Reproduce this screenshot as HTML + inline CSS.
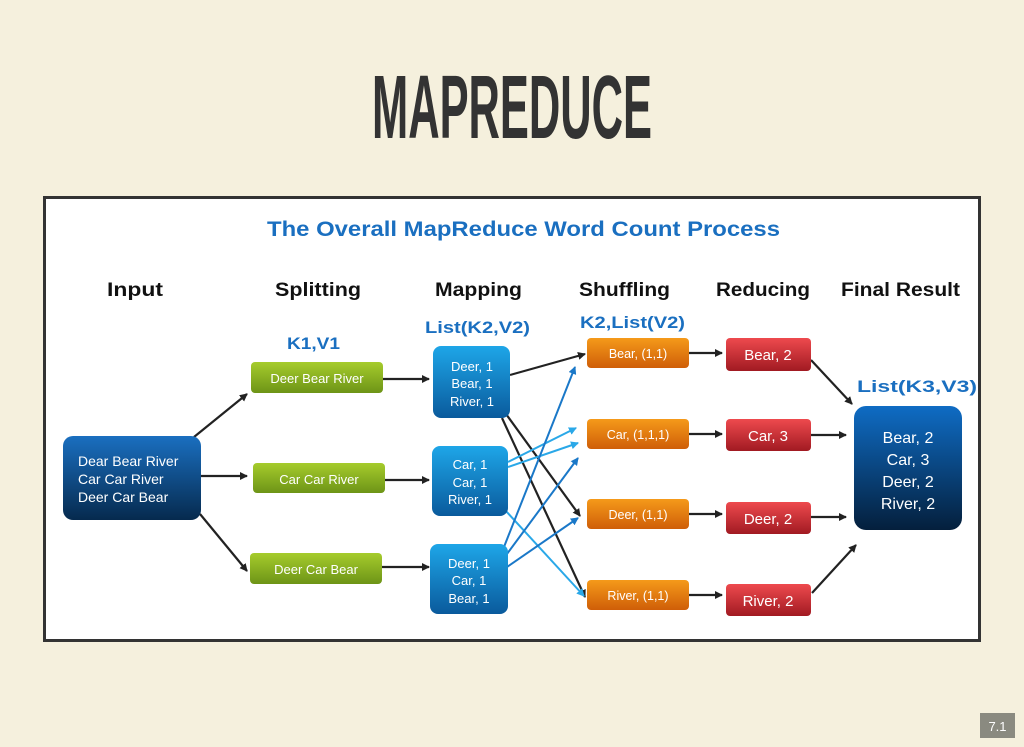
<!DOCTYPE html>
<html><head><meta charset="utf-8"><style>
html,body{margin:0;padding:0;background:#f5f0dd;}
svg{display:block}
text{font-family:"Liberation Sans",sans-serif}
</style></head><body>
<svg width="1024" height="747" viewBox="0 0 1024 747" xmlns="http://www.w3.org/2000/svg">
<defs>
<linearGradient id="gIn" x1="0" y1="0" x2="0" y2="1"><stop offset="0" stop-color="#1a6fc0"/><stop offset="1" stop-color="#062a4e"/></linearGradient>
<linearGradient id="gMap" x1="0" y1="0" x2="0" y2="1"><stop offset="0" stop-color="#1ea6e8"/><stop offset="1" stop-color="#0a5a9c"/></linearGradient>
<linearGradient id="gGr" x1="0" y1="0" x2="0" y2="1"><stop offset="0" stop-color="#a6cc2c"/><stop offset="1" stop-color="#6d9417"/></linearGradient>
<linearGradient id="gOr" x1="0" y1="0" x2="0" y2="1"><stop offset="0" stop-color="#f59a1a"/><stop offset="1" stop-color="#cf5e08"/></linearGradient>
<linearGradient id="gRd" x1="0" y1="0" x2="0" y2="1"><stop offset="0" stop-color="#ee4a4e"/><stop offset="1" stop-color="#a11a22"/></linearGradient>
<linearGradient id="gFin" x1="0" y1="0" x2="0" y2="1"><stop offset="0" stop-color="#0f6cc4"/><stop offset="1" stop-color="#041f3c"/></linearGradient>
<marker id="ak" markerWidth="8" markerHeight="8" refX="7" refY="4" orient="auto" markerUnits="userSpaceOnUse"><path d="M0,0 L8,4 L0,8 z" fill="#222"/></marker>
<marker id="ab" markerWidth="8" markerHeight="8" refX="7" refY="4" orient="auto" markerUnits="userSpaceOnUse"><path d="M0,0 L8,4 L0,8 z" fill="#1a78c8"/></marker>
<marker id="al" markerWidth="8" markerHeight="8" refX="7" refY="4" orient="auto" markerUnits="userSpaceOnUse"><path d="M0,0 L8,4 L0,8 z" fill="#2aa8e8"/></marker>
</defs>

<text x="512" y="138" font-size="90" font-weight="bold" fill="#333" text-anchor="middle" textLength="280" lengthAdjust="spacingAndGlyphs">MAPREDUCE</text>

<rect x="44.5" y="197.5" width="935" height="443" fill="#fff" stroke="#333" stroke-width="3"/>

<text x="267" y="236" font-size="21" font-weight="bold" fill="#1a6fc0" textLength="513" lengthAdjust="spacingAndGlyphs">The Overall MapReduce Word Count Process</text>

<g font-size="19" font-weight="bold" fill="#111">
<text x="107" y="296" textLength="56" lengthAdjust="spacingAndGlyphs">Input</text>
<text x="275" y="296" textLength="86" lengthAdjust="spacingAndGlyphs">Splitting</text>
<text x="435" y="296" textLength="87" lengthAdjust="spacingAndGlyphs">Mapping</text>
<text x="579" y="296" textLength="91" lengthAdjust="spacingAndGlyphs">Shuffling</text>
<text x="716" y="296" textLength="94" lengthAdjust="spacingAndGlyphs">Reducing</text>
<text x="841" y="296" textLength="119" lengthAdjust="spacingAndGlyphs">Final Result</text>
</g>
<g font-size="17" font-weight="bold" fill="#1a6fc0">
<text x="287" y="349" textLength="53" lengthAdjust="spacingAndGlyphs">K1,V1</text>
<text x="425" y="333" textLength="105" lengthAdjust="spacingAndGlyphs">List(K2,V2)</text>
<text x="580" y="328" textLength="105" lengthAdjust="spacingAndGlyphs">K2,List(V2)</text>
<text x="857" y="392" textLength="120" lengthAdjust="spacingAndGlyphs">List(K3,V3)</text>
</g>

<!-- arrows -->
<g stroke="#222" stroke-width="2.2" fill="none" marker-end="url(#ak)">
<line x1="194" y1="437" x2="247" y2="394"/>
<line x1="201" y1="476" x2="247" y2="476"/>
<line x1="200" y1="514" x2="247" y2="571"/>
<line x1="383" y1="379" x2="429" y2="379"/>
<line x1="385" y1="480" x2="429" y2="480"/>
<line x1="382" y1="567" x2="429" y2="567"/>
<line x1="510" y1="375" x2="585" y2="354"/>
<line x1="506" y1="414" x2="580" y2="516"/>
<line x1="502" y1="418" x2="585" y2="597"/>
<line x1="689" y1="353" x2="722" y2="353"/>
<line x1="689" y1="434" x2="722" y2="434"/>
<line x1="689" y1="514" x2="722" y2="514"/>
<line x1="689" y1="595" x2="722" y2="595"/>
<line x1="811" y1="360" x2="852" y2="404"/>
<line x1="811" y1="435" x2="846" y2="435"/>
<line x1="811" y1="517" x2="846" y2="517"/>
<line x1="812" y1="593" x2="856" y2="545"/>
</g>
<g stroke="#2aa8e8" stroke-width="2" fill="none" marker-end="url(#al)">
<line x1="508" y1="462" x2="576" y2="428"/>
<line x1="508" y1="467" x2="578" y2="443"/>
<line x1="505" y1="510" x2="584" y2="596"/>
</g>
<g stroke="#1a78c8" stroke-width="2" fill="none" marker-end="url(#ab)">
<line x1="502" y1="552" x2="575" y2="367"/>
<line x1="504" y1="558" x2="578" y2="458"/>
<line x1="507" y1="567" x2="578" y2="518"/>
</g>

<!-- input -->
<rect x="63" y="436" width="138" height="84" rx="10" fill="url(#gIn)"/>
<g font-size="14" fill="#fff"><text x="78" y="466">Dear Bear River</text><text x="78" y="484">Car Car River</text><text x="78" y="502">Deer Car Bear</text></g>

<!-- split -->
<g fill="url(#gGr)">
<rect x="251" y="362" width="132" height="31" rx="4"/>
<rect x="253" y="463" width="132" height="30" rx="4"/>
<rect x="250" y="553" width="132" height="31" rx="4"/>
</g>
<g font-size="13" fill="#fff" text-anchor="middle">
<text x="317" y="383">Deer Bear River</text><text x="319" y="484">Car Car River</text><text x="316" y="574">Deer Car Bear</text>
</g>

<!-- map -->
<g fill="url(#gMap)">
<rect x="433" y="346" width="77" height="72" rx="8"/>
<rect x="432" y="446" width="76" height="70" rx="8"/>
<rect x="430" y="544" width="78" height="70" rx="8"/>
</g>
<g font-size="13" fill="#fff" text-anchor="middle">
<text x="472" y="371">Deer, 1</text><text x="472" y="388">Bear, 1</text><text x="472" y="406">River, 1</text>
<text x="470" y="469">Car, 1</text><text x="470" y="487">Car, 1</text><text x="470" y="504">River, 1</text>
<text x="469" y="568">Deer, 1</text><text x="469" y="585">Car, 1</text><text x="469" y="603">Bear, 1</text>
</g>

<!-- shuffle -->
<g fill="url(#gOr)">
<rect x="587" y="338" width="102" height="30" rx="4"/>
<rect x="587" y="419" width="102" height="30" rx="4"/>
<rect x="587" y="499" width="102" height="30" rx="4"/>
<rect x="587" y="580" width="102" height="30" rx="4"/>
</g>
<g font-size="12.5" fill="#fff" text-anchor="middle">
<text x="638" y="358">Bear, (1,1)</text><text x="638" y="439">Car, (1,1,1)</text><text x="638" y="519">Deer, (1,1)</text><text x="638" y="600">River, (1,1)</text>
</g>

<!-- reduce -->
<g fill="url(#gRd)">
<rect x="726" y="338" width="85" height="33" rx="4"/>
<rect x="726" y="419" width="85" height="32" rx="4"/>
<rect x="726" y="502" width="85" height="32" rx="4"/>
<rect x="726" y="584" width="85" height="32" rx="4"/>
</g>
<g font-size="15" fill="#fff" text-anchor="middle">
<text x="768" y="360">Bear, 2</text><text x="768" y="441">Car, 3</text><text x="768" y="524">Deer, 2</text><text x="768" y="606">River, 2</text>
</g>

<!-- final -->
<rect x="854" y="406" width="108" height="124" rx="12" fill="url(#gFin)"/>
<g font-size="16" fill="#fff" text-anchor="middle">
<text x="908" y="443">Bear, 2</text><text x="908" y="465">Car, 3</text><text x="908" y="487">Deer, 2</text><text x="908" y="509">River, 2</text>
</g>

<!-- page number -->
<rect x="980" y="713" width="35" height="25" fill="#8a8a80"/>
<text x="997.5" y="731" font-size="13" fill="#fff" text-anchor="middle" font-family="Liberation Mono">7.1</text>
</svg>
</body></html>
